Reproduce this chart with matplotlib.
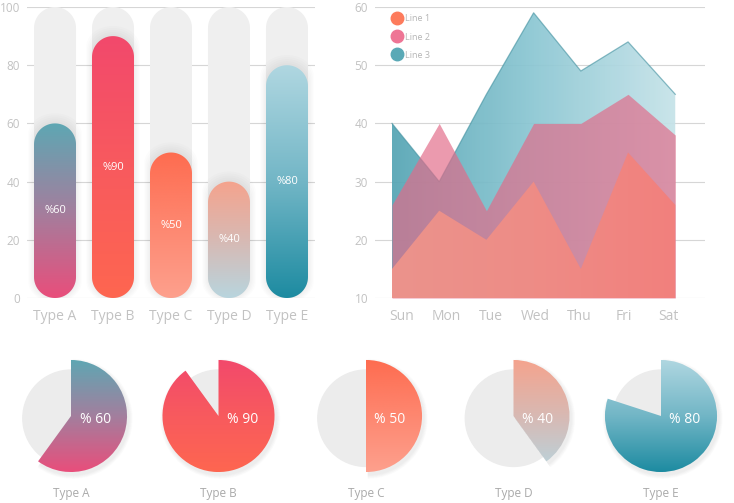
import numpy as np
import matplotlib
matplotlib.use("Agg")
import matplotlib.pyplot as plt
from matplotlib.colors import LinearSegmentedColormap
from matplotlib.patches import Polygon, Circle, Wedge
from matplotlib.lines import Line2D

plt.rcParams["font.family"] = ["Open Sans", "DejaVu Sans"]

TYPES = ["Type A", "Type B", "Type C", "Type D", "Type E"]
PCTS = [60, 90, 50, 40, 80]

DAYS = ["Sun", "Mon", "Tue", "Wed", "Thu", "Fri", "Sat"]
LINE1 = [15, 25, 20, 30, 15, 35, 26]
LINE2 = [26, 40, 25, 40, 40, 45, 38]
LINE3 = [40, 30, 45, 59, 49, 54, 45]
SERIES_NAMES = ["Line 1", "Line 2", "Line 3"]

# gradient stops per type, bottom -> top
TYPE_GRADIENTS = [
    ["#e94e7b", "#a27f9e", "#5ea7b3"],
    ["#fe6650", "#f85a5e", "#f2496c"],
    ["#fda08d", "#fe8770", "#fe6c50"],
    ["#b8d5de", "#d8b9b3", "#f5a38d"],
    ["#1d8ba1", "#72b6c6", "#b0d7e1"],
]

W, H = 734, 503
GREY_TXT = "#c2c2c2"
fig = plt.figure(figsize=(W / 100, H / 100), dpi=100)


def px_axes(l, t, r, b):
    return fig.add_axes([l / W, 1 - b / H, (r - l) / W, (b - t) / H])


def stadium(c, y0, y1, hw, ry, n=40):
    t = np.linspace(0, np.pi, n)
    top = np.column_stack([c + hw * np.cos(t), y1 - ry + ry * np.sin(t)])
    t = np.linspace(np.pi, 2 * np.pi, n)
    bot = np.column_stack([c + hw * np.cos(t), y0 + ry + ry * np.sin(t)])
    return np.vstack([top, bot])


# ---------------- bar chart ----------------
ax = px_axes(27, 7, 315, 298)
ax.set_xlim(-0.483, 4.483)
ax.set_ylim(0, 100)
xs_px, ys_px = 288 / 4.966, 291 / 100
hw = 21 / xs_px
ry = 21 / ys_px

for i, (v, stops) in enumerate(zip(PCTS, TYPE_GRADIENTS)):
    bg = Polygon(stadium(i, 0, 100, hw, ry), closed=True,
                 facecolor="#efefef", edgecolor="none", zorder=2)
    ax.add_patch(bg)
    # soft shadow
    for k in range(1, 6):
        sh = Polygon(stadium(i, -0.3 * k, v + 0.7 * k, hw + 0.02 * k, ry),
                     closed=True, facecolor="#000000", alpha=0.01,
                     edgecolor="none", zorder=2.5)
        ax.add_patch(sh)
    clip = Polygon(stadium(i, 0, v, hw, ry), closed=True,
                   facecolor="none", edgecolor="none", zorder=3)
    ax.add_patch(clip)
    cmap = LinearSegmentedColormap.from_list(f"t{i}", stops)
    im = ax.imshow(np.linspace(0, 1, 256)[:, None], cmap=cmap, origin="lower",
                   extent=(i - hw, i + hw, 0, v), aspect="auto",
                   interpolation="bicubic", zorder=3)
    im.set_clip_path(clip)
    ax.text(i, v / 2, f"%{v}", color="white", fontsize=8,
            ha="center", va="center", zorder=5)

ax.set_xlim(-0.483, 4.483)
ax.set_ylim(0, 100)
ax.set_yticks(range(0, 101, 20))
ax.set_xticks(range(len(TYPES)), TYPES)
ax.grid(axis="y", color="#d6d6d6", lw=0.8)
ax.set_axisbelow(True)
for s in ax.spines.values():
    s.set_visible(False)
ax.tick_params(axis="y", length=0, labelsize=8.5, labelcolor=GREY_TXT, pad=5)
ax.tick_params(axis="x", length=0, labelsize=10, labelcolor=GREY_TXT, pad=8)

# ---------------- area chart ----------------
ax2 = px_axes(375, 7, 705, 298)
x = np.arange(len(DAYS))


def area_patch(vals, z):
    verts = [(x[0], 10)] + list(zip(x, vals)) + [(x[-1], 10)]
    p = Polygon(verts, closed=True, facecolor="none", edgecolor="none", zorder=z)
    ax2.add_patch(p)
    return p


teal = LinearSegmentedColormap.from_list("teal", ["#55a5b4", "#8cc7d3", "#c6e3e9"])
p3 = area_patch(LINE3, 2)
im3 = ax2.imshow(np.linspace(0, 1, 256)[None, :], cmap=teal, origin="lower",
                 extent=(x[0], x[-1], 10, 60), aspect="auto", alpha=0.93, zorder=2)
im3.set_clip_path(p3)
ax2.plot(x, LINE3, color="#3f8f9e", lw=0.9, alpha=0.6, zorder=2.2)

ax2.fill_between(x, 10, LINE2, color="#e26a88", alpha=0.68, lw=0, zorder=3)

salmon = LinearSegmentedColormap.from_list("salmon", ["#eb938c", "#ee8c86", "#f2807d"])
p1 = area_patch(LINE1, 4)
im1 = ax2.imshow(np.linspace(0, 1, 256)[None, :], cmap=salmon, origin="lower",
                 extent=(x[0], x[-1], 10, 60), aspect="auto", zorder=4)
im1.set_clip_path(p1)

ax2.set_xlim(-0.36, 6.63)
ax2.set_ylim(10, 60)
ax2.set_yticks(range(10, 61, 10))
ax2.set_xticks(np.linspace(0.21, 5.86, len(DAYS)), DAYS)
ax2.grid(axis="y", color="#d6d6d6", lw=0.8)
ax2.set_axisbelow(True)
for s in ax2.spines.values():
    s.set_visible(False)
ax2.tick_params(axis="y", length=0, labelsize=8.5, labelcolor=GREY_TXT, pad=5)
ax2.tick_params(axis="x", length=0, labelsize=10, labelcolor=GREY_TXT, pad=8)

handles = [Line2D([], [], marker="o", ls="", ms=9, mfc=c, mec=c)
           for c in ("#fd7b5c", "#ee7595", "#5aa9b6")]
ax2.legend(handles, SERIES_NAMES, loc="upper left", bbox_to_anchor=(0.032, 0.996),
           frameon=False, fontsize=6.5, labelcolor="#b5b5b5",
           handletextpad=0.3, labelspacing=1.0, borderaxespad=0.3,
           handlelength=1.2)

# ---------------- pies ----------------
for i, (v, stops) in enumerate(zip(PCTS, TYPE_GRADIENTS)):
    cx, cy = 71 + 147.5 * i, 416
    pax = px_axes(cx - 65, cy - 65, cx + 65, cy + 65)
    pax.add_patch(Circle((0, -0.04), 0.86, color="#ececec", zorder=1))
    for k in range(1, 7):
        pax.add_patch(Wedge((0.03, -0.05), 1.0 + 0.012 * k, 90 - 3.6 * v, 90,
                            color="#000000", alpha=0.012, lw=0, zorder=1.5))
    wedges, _ = pax.pie([v, 100 - v], startangle=90, counterclock=False,
                        radius=1, colors=["none", "none"],
                        wedgeprops=dict(lw=0))
    for w in wedges:
        w.set_zorder(2)
    cmap = LinearSegmentedColormap.from_list(f"p{i}", stops)
    im = pax.imshow(np.linspace(0, 1, 256)[:, None], cmap=cmap, origin="lower",
                    extent=(-1, 1, -1, 1), aspect="auto",
                    interpolation="bicubic", zorder=2)
    im.set_clip_path(wedges[0])
    pax.text(0.43, -0.07, f"% {v}", color="white", fontsize=10,
             ha="center", va="center", zorder=5)
    pax.text(0, -1.38, TYPES[i], color="#a9a9a9", fontsize=8.5,
             ha="center", va="center", clip_on=False)
    pax.set_xlim(-1.16, 1.16)
    pax.set_ylim(-1.16, 1.16)
    pax.set_aspect("equal")
    pax.axis("off")

fig.savefig("out.png", dpi=100)
